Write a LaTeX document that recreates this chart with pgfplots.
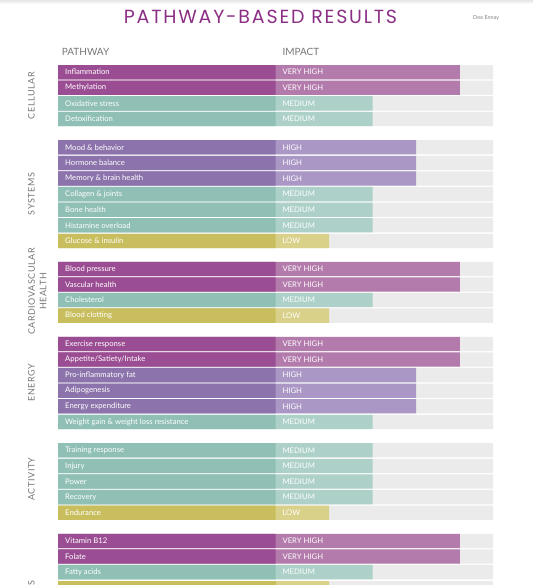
\documentclass[border=0pt]{standalone}
\usepackage{fontspec}
\setmainfont{Lato}
\newfontfamily\titlefont{Poppins}[LetterSpace=9.5]
\newfontfamily\capsfont{Lato}[LetterSpace=6]
\usepackage{pgfplots}
\pgfplotsset{compat=1.18}
\usepackage{pgfplotstable}

\definecolor{vhD}{HTML}{9B4D93}
\definecolor{vhL}{HTML}{B37BAC}
\definecolor{hD}{HTML}{8C73AB}
\definecolor{hL}{HTML}{AA97C6}
\definecolor{mD}{HTML}{8FBFB5}
\definecolor{mL}{HTML}{ADD1C9}
\definecolor{lD}{HTML}{C9BE5D}
\definecolor{lL}{HTML}{D9D089}
\definecolor{bg}{HTML}{EBEBEB}
\definecolor{titlec}{HTML}{8B2F84}
\definecolor{grayt}{HTML}{767676}

\pgfplotstableread[col sep=semicolon,row sep=\\]{
y;full;dark;end;label;impact\\
72.2;100;50;92.4;Inflammation;VERY HIGH\\
87.8;100;50;92.4;Methylation;VERY HIGH\\
268.9;100;50;92.4;Blood pressure;VERY HIGH\\
284.4;100;50;92.4;Vascular health;VERY HIGH\\
343.9;100;50;92.4;Exercise response;VERY HIGH\\
359.5;100;50;92.4;Appetite/Satiety/Intake;VERY HIGH\\
540.9;100;50;92.4;Vitamin B12;VERY HIGH\\
556.5;100;50;92.4;Folate;VERY HIGH\\
}\vhtab

\pgfplotstableread[col sep=semicolon,row sep=\\]{
y;full;dark;end;label;impact\\
147.3;100;50;82.3;Mood \& behavior;HIGH\\
162.9;100;50;82.3;Hormone balance;HIGH\\
178.5;100;50;82.3;Memory \& brain health;HIGH\\
375.1;100;50;82.3;Pro-inflammatory fat;HIGH\\
390.7;100;50;82.3;Adipogenesis;HIGH\\
406.3;100;50;82.3;Energy expenditure;HIGH\\
}\htab

\pgfplotstableread[col sep=semicolon,row sep=\\]{
y;full;dark;end;label;impact\\
103.4;100;50;72.3;Oxidative stress;MEDIUM\\
119.0;100;50;72.3;Detoxification;MEDIUM\\
194.1;100;50;72.3;Collagen \& joints;MEDIUM\\
209.7;100;50;72.3;Bone health;MEDIUM\\
225.3;100;50;72.3;Histamine overload;MEDIUM\\
300.0;100;50;72.3;Cholesterol;MEDIUM\\
421.9;100;50;72.3;Weight gain \& weight loss resistance;MEDIUM\\
450.3;100;50;72.3;Training response;MEDIUM\\
465.9;100;50;72.3;Injury;MEDIUM\\
481.5;100;50;72.3;Power;MEDIUM\\
497.1;100;50;72.3;Recovery;MEDIUM\\
572.1;100;50;72.3;Fatty acids;MEDIUM\\
}\mtab

\pgfplotstableread[col sep=semicolon,row sep=\\]{
y;full;dark;end;label;impact\\
240.9;100;50;62.3;Glucose \& insulin;LOW\\
315.6;100;50;62.3;Blood clotting;LOW\\
512.7;100;50;62.3;Endurance;LOW\\
}\ltab

% row cut off by the lower edge of the page (text not visible)
\pgfplotstableread[col sep=semicolon,row sep=\\]{
y;full;dark;end\\
587.7;100;50;62.3\\
}\lcut

\tikzset{barlbl/.style={inner sep=0pt, text=white, font=\fontsize{7.7bp}{9bp}\selectfont}}

\begin{document}
\begin{tikzpicture}
\useasboundingbox (0,0) rectangle (533bp,585bp);
\shade[top color=black!10, bottom color=white] (0,581bp) rectangle (533bp,585bp);
\begin{axis}[
  at={(58bp,0bp)}, anchor=south west,
  scale only axis, width=435bp, height=585bp,
  xmin=0, xmax=100, ymin=0, ymax=585, y dir=reverse,
  hide axis, clip=false,
  every axis plot/.append style={xbar, bar width=14.3, bar shift=0pt, draw=none},
]
% background rows
\addplot[fill=bg] table[x=full,y=y]{\vhtab};
\addplot[fill=bg] table[x=full,y=y]{\htab};
\addplot[fill=bg] table[x=full,y=y]{\mtab};
\addplot[fill=bg] table[x=full,y=y]{\ltab};
\addplot[fill=bg] table[x=full,y=y]{\lcut};
% impact (light) bars
\addplot[fill=vhL, nodes near coords, point meta=explicit symbolic,
  every node near coord/.style={barlbl, anchor=west, xshift=-177.6bp}]
  table[x=end,y=y,meta=impact]{\vhtab};
\addplot[fill=hL, nodes near coords, point meta=explicit symbolic,
  every node near coord/.style={barlbl, anchor=west, xshift=-133.7bp}]
  table[x=end,y=y,meta=impact]{\htab};
\addplot[fill=mL, nodes near coords, point meta=explicit symbolic,
  every node near coord/.style={barlbl, anchor=west, xshift=-90.2bp}]
  table[x=end,y=y,meta=impact]{\mtab};
\addplot[fill=lL, nodes near coords, point meta=explicit symbolic,
  every node near coord/.style={barlbl, anchor=west, xshift=-46.7bp}]
  table[x=end,y=y,meta=impact]{\ltab};
\addplot[fill=lL] table[x=end,y=y]{\lcut};
% pathway (dark) bars
\addplot[fill=vhD, nodes near coords, point meta=explicit symbolic,
  every node near coord/.style={barlbl, anchor=west, xshift=-210.5bp}]
  table[x=dark,y=y,meta=label]{\vhtab};
\addplot[fill=hD, nodes near coords, point meta=explicit symbolic,
  every node near coord/.style={barlbl, anchor=west, xshift=-210.5bp}]
  table[x=dark,y=y,meta=label]{\htab};
\addplot[fill=mD, nodes near coords, point meta=explicit symbolic,
  every node near coord/.style={barlbl, anchor=west, xshift=-210.5bp}]
  table[x=dark,y=y,meta=label]{\mtab};
\addplot[fill=lD, nodes near coords, point meta=explicit symbolic,
  every node near coord/.style={barlbl, anchor=west, xshift=-210.5bp}]
  table[x=dark,y=y,meta=label]{\ltab};
\addplot[fill=lD] table[x=dark,y=y]{\lcut};
\end{axis}
% title and headers
\node[anchor=base, inner sep=0pt, text=titlec, font=\titlefont\fontsize{19bp}{22bp}\selectfont]
  at (260.5bp,561.7bp) {PATHWAY-BASED RESULTS};
\node[anchor=base west, inner sep=0pt, text=black!50, font=\fontsize{5.5bp}{6bp}\selectfont]
  at (473bp,565.3bp) {Dee Ennay};
\node[anchor=base west, inner sep=0pt, text=grayt, font=\fontsize{10bp}{12bp}\selectfont]
  at (61.7bp,529.3bp) {PATHWAY};
\node[anchor=base west, inner sep=0pt, text=grayt, font=\fontsize{10bp}{12bp}\selectfont]
  at (282.3bp,529.3bp) {IMPACT};
% group labels
\tikzset{grp/.style={rotate=90, inner sep=0pt, text=grayt, font=\capsfont\fontsize{9bp}{11.5bp}\selectfont, align=center}}
\node[grp] at (31.5bp,{585bp-95.6bp}) {CELLULAR};
\node[grp] at (31.5bp,{585bp-194.1bp}) {SYSTEMS};
\node[grp] at (37.3bp,{585bp-291.5bp}) {CARDIOVASCULAR\\HEALTH};
\node[grp] at (31.5bp,{585bp-382.9bp}) {ENERGY};
\node[grp] at (31.5bp,{585bp-479bp}) {ACTIVITY};
\node[grp, anchor=east] at (31.5bp,{585bp-580bp}) {NUTRIENTS};
\end{tikzpicture}
\end{document}
